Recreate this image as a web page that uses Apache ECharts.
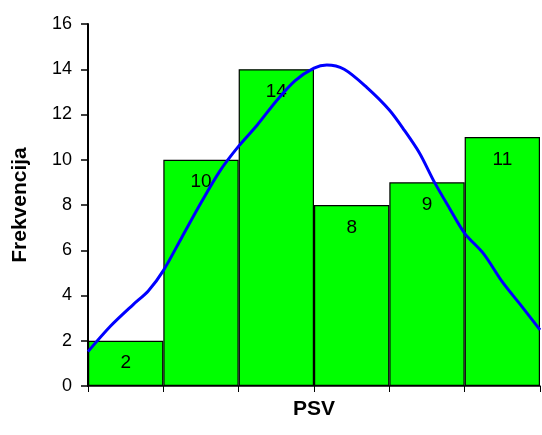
<!DOCTYPE html>
<html>
<head>
<meta charset="utf-8">
<script src="https://cdn.jsdelivr.net/npm/echarts@6/dist/echarts.min.js"></script>
<style>
  html, body { margin: 0; padding: 0; background: #fff; }
  #chart { width: 542px; height: 435px; }
</style>
</head>
<body>
<div id="chart"></div>
<script>
// Histogram classes and their counts
const classes = ['1', '2', '3', '4', '5', '6'];
const counts = [2, 10, 14, 8, 9, 11];

// Fitted normal curve, x in class units (0 = left edge, 6 = right edge)
const curveX = [0, 0.3, 0.6, 0.8, 1.0, 1.25, 1.5, 1.75, 2.0, 2.25, 2.5, 2.75, 3.0, 3.17,
                3.4, 3.7, 4.0, 4.2, 4.4, 4.6, 4.8, 5.0, 5.25, 5.5, 5.75, 6.0];
const curveY = [1.52, 2.65, 3.6, 4.2, 5.1, 6.6, 8.1, 9.5, 10.6, 11.55, 12.6, 13.5, 14.05, 14.19,
                14.0, 13.2, 12.2, 11.3, 10.3, 9.0, 7.85, 6.75, 5.85, 4.6, 3.55, 2.48];

const yTicks = { min: 0, max: 16, step: 2 };

const chart = echarts.init(document.getElementById('chart'), null, { renderer: 'canvas' });

chart.setOption({
  animation: false,
  backgroundColor: '#ffffff',
  grid: { left: 88, right: 2, top: 24, bottom: 49, containLabel: false },
  xAxis: [
    {
      type: 'category',
      data: classes,
      name: 'PSV',
      nameLocation: 'middle',
      nameGap: 13,
      nameTextStyle: { fontFamily: 'Liberation Sans, Arial', fontWeight: 'bold', fontSize: 21, color: '#000' },
      axisLine: { lineStyle: { color: '#000', width: 1.5 } },
      axisTick: { show: true, inside: false, length: 6, lineStyle: { color: '#000', width: 1 } },
      axisLabel: { show: false },
      splitLine: { show: false }
    },
    {
      type: 'value',
      min: 0,
      max: 6,
      show: false
    }
  ],
  yAxis: {
    type: 'value',
    min: yTicks.min,
    max: yTicks.max,
    interval: yTicks.step,
    name: 'Frekvencija',
    nameLocation: 'middle',
    nameRotate: 90,
    nameGap: 57,
    nameTextStyle: { fontFamily: 'Liberation Sans, Arial', fontWeight: 'bold', fontSize: 21, color: '#000' },
    axisLine: { show: true, lineStyle: { color: '#000', width: 2 } },
    axisTick: { show: true, inside: false, length: 7, lineStyle: { color: '#000', width: 1.5 } },
    axisLabel: { fontFamily: 'Liberation Sans, Arial', fontSize: 18, color: '#000', margin: 16 },
    splitLine: { show: false }
  },
  series: [
    {
      type: 'bar',
      data: counts,
      xAxisIndex: 0,
      barCategoryGap: 0,
      itemStyle: { color: '#00ff00', borderColor: '#000', borderWidth: 1.2 },
      label: {
        show: true,
        position: 'insideTop',
        distance: 13,
        fontFamily: 'Liberation Sans, Arial',
        fontSize: 19,
        color: '#000'
      },
      z: 2
    },
    {
      type: 'line',
      xAxisIndex: 1,
      data: curveX.map((x, i) => [x, curveY[i]]),
      smooth: 0.3,
      showSymbol: false,
      symbol: 'none',
      lineStyle: { color: '#0000ff', width: 3 },
      z: 3
    }
  ]
});
</script>
</body>
</html>
